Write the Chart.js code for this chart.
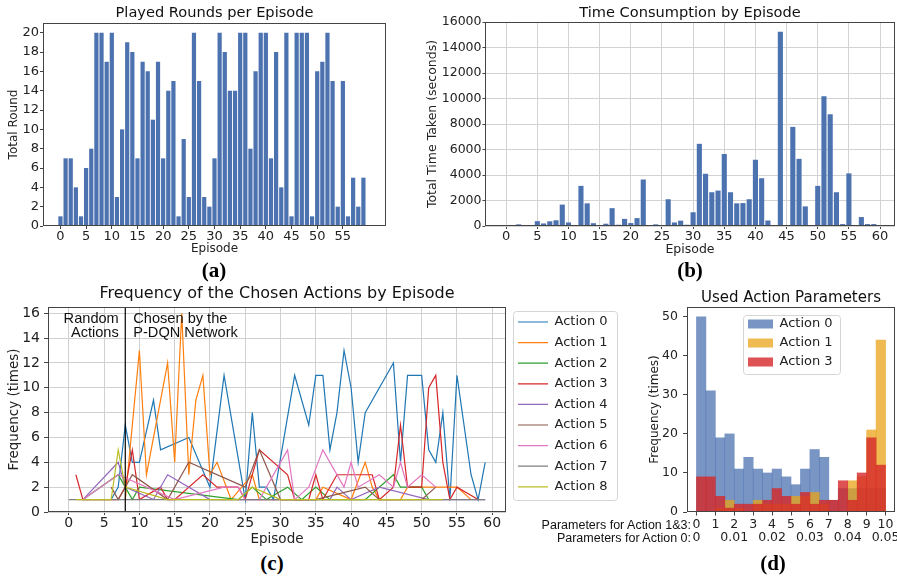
<!DOCTYPE html>
<html lang="en">
<head>
<meta charset="UTF-8">
<title>P-DQN episodes</title>
<script src="https://cdn.jsdelivr.net/npm/chart.js@4.4.1/dist/chart.umd.min.js"></script>
<style>
  body { margin: 0; background: #fff; }
  #page { position: relative; width: 897px; height: 577px; overflow: hidden; }
  #page canvas { position: absolute; }
  .tag { position: absolute; transform: translate(-50%, -50%); font: bold 21px 'Liberation Serif', 'DejaVu Serif', serif; color: #000; }
  .pre { position: absolute; transform: translate(-100%, -50%); font: 12.5px 'Liberation Sans', Arial, sans-serif; color: #111; white-space: nowrap; }
</style>
</head>
<body>
<div id="page">
  <canvas id="chartA" width="420" height="258" style="left:0px;top:0px"></canvas>
  <canvas id="chartB" width="477" height="258" style="left:420px;top:0px"></canvas>
  <canvas id="chartC" width="630" height="270" style="left:0px;top:280px"></canvas>
  <canvas id="chartD" width="267" height="297" style="left:630px;top:280px"></canvas>
  <div class="tag" style="left:214px;top:270px">(a)</div>
  <div class="tag" style="left:690px;top:270px">(b)</div>
  <div class="tag" style="left:272px;top:563px">(c)</div>
  <div class="tag" style="left:773px;top:563px">(d)</div>
  <div class="pre" style="left:691px;top:525px">Parameters for Action 1&amp;3:</div>
  <div class="pre" style="left:691px;top:538px">Parameters for Action 0:</div>
</div>
<script>
// ---------- data ----------
var episodes = [0,1,2,3,4,5,6,7,8,9,10,11,12,13,14,15,16,17,18,19,20,21,22,23,24,25,26,27,28,29,
                30,31,32,33,34,35,36,37,38,39,40,41,42,43,44,45,46,47,48,49,50,51,52,53,54,55,56,57,58,59];
var playedRounds = [1,7,7,4,1,6,8,20,20,17, 20,3,10,19,18,7,17,16,11,17, 7,14,15,1,9,3,20,15,3,2,
                    7,20,18,14,14,20,20,8,16,20, 20,7,18,4,20,1,20,20,20,1, 16,17,20,15,2,15,1,5,2,5];
var timeTaken = [0,30,130,40,0,380,200,370,450,1680, 280,30,3150,1780,220,60,180,1400,100,560,
                 230,620,3650,0,130,20,2100,280,420,100, 1080,6450,4100,2650,2780,5650,2650,1780,1800,2100,
                 5200,3750,430,20,15250,0,7780,5270,1540,0, 3150,10180,8770,2650,150,4130,0,700,150,150];

var xTicksA = [0,5,10,15,20,25,30,35,40,45,50,55];
var yTicksA = [0,2,4,6,8,10,12,14,16,18,20];
var xTicksB = [0,5,10,15,20,25,30,35,40,45,50,55,60];
var yTicksB = [0,2000,4000,6000,8000,10000,12000,14000,16000];

// chosen-action frequency per episode (only episodes where the action was used)
var actionNames = ['Action 0','Action 1','Action 2','Action 3','Action 4','Action 5','Action 6','Action 7','Action 8'];
var a0Ep = [6,7,8,9,10,12,13,17,20,22,25,26,27,28,29,32,34,35,36,37,38,39,40,41,42,46,47,48,50,51,52,53,54,55,57,58,59];
var a0Freq = [1,2,7,4,4,9,5,6,2,11,1,8,2,2,1,11,7,11,11,5,8,13,10,4,8,12,4,11,11,5,4,8,1,11,3,1,4];
var a1Ep = [8,10,11,14,15,16,17,18,19,20,21,23,26,27,35,36,40,42,43,44,47,48,55,57];
var a1Freq = [1,13,3,12,4,16,3,9,11,3,4,1,3,1,1,2,1,4,2,1,1,2,2,1];
var a2Ep = [2,7,8,9,10,24,26,28,31,33,35,37,42,46,47,50,51];
var a2Freq = [1,3,2,1,2,1,2,1,2,1,2,1,1,3,2,2,1];
var a3Ep = [1,2,7,8,9,10,13,14,15,19,21,24,25,27,31,32,34,35,36,38,43,44,46,47,48,50,51,52,53,54,55,58];
var a3Freq = [3,1,1,2,5,1,2,1,1,3,2,2,1,5,3,1,1,3,1,3,3,1,2,7,2,2,10,11,4,1,2,1];
var a4Ep = [2,7,8,12,14,20,37,38,40,44,51,59];
var a4Freq = [1,4,2,1,3,1,1,2,1,2,1,1];
var a5Ep = [6,7,9,14,17,25,27,30,35,42,44,50,52];
var a5Freq = [2,1,3,1,4,2,5,1,1,2,1,1,2];
var a6Ep = [2,7,15,22,24,25,27,31,32,34,36,39,40,41,44,46,47,48,50,52];
var a6Freq = [1,3,1,2,2,1,1,5,1,2,5,2,4,2,3,2,4,2,3,2];
var a7Ep = [0,59];
var a7Freq = [1,1];
var a8Ep = [1,6,7,8,14,24,26,30,53];
var a8Freq = [1,1,5,2,1,1,2,1,1];
var splitEpisode = 8;
var xTicksC = [0,5,10,15,20,25,30,35,40,45,50,55,60];
var yTicksC = [0,2,4,6,8,10,12,14,16];
var yMaxC = 16.5;

// histogram of used parameters, 20 bins over 0..10
var binCenters = [0.25,0.75,1.25,1.75,2.25,2.75,3.25,3.75,4.25,4.75,5.25,5.75,6.25,6.75,7.25,7.75,8.25,8.75,9.25,9.75];
var action0Hist = [50,31,19,20,11,14,11,10,11,9,7,11,16,14,3,6,6,6,6,6];
var action1Hist = [0,0,1,3,1,0,3,2,2,2,4,4,5,2,0,0,8,9,21,44];
var action3Hist = [9,9,4,1,2,2,2,3,6,4,2,5,2,3,3,8,3,10,19,12];
var paramTicks = [0,1,2,3,4,5,6,7,8,9,10];
var paramLabels13 = ['0','1','2','3','4','5','6','7','8','9','10'];
var paramLabels0 = ['0','','0.01','','0.02','','0.03','','0.04','','0.05'];
var yTicksD = [0,10,20,30,40,50];

// ---------- styles ----------
var actionColors = ['#1f77b4','#ff7f0e','#2ca02c','#d62728','#9467bd','#8c564b','#e377c2','#7f7f7f','#bcbd22'];
var barBlue = '#4c72b0';
var FONT = "'DejaVu Sans', sans-serif";
Chart.defaults.font.family = FONT;
Chart.defaults.color = '#222';
Chart.defaults.animation = false;

// ---------- helpers ----------
var fixAxis = function(size){
    return function(s){
        if (s.isHorizontal()) { s.height = size; s.paddingLeft = 0; s.paddingRight = 0; }
        else { s.width = size; s.paddingTop = 0; s.paddingBottom = 0; }
    };
};
var useTicks = function(vals){
    return function(s){ s.ticks = vals.map(function(v){ return {value: v}; }); };
};
var plain = function(v){ return String(v); };

// box around the plot area, like matplotlib spines
var framePlugin = {
    id: 'frame',
    afterDatasetsDraw: function(chart){
        var a = chart.chartArea, ctx = chart.ctx;
        ctx.save();
        ctx.strokeStyle = '#444';
        ctx.lineWidth = 1;
        ctx.strokeRect(Math.round(a.left) + 0.5, Math.round(a.top) + 0.5,
                       Math.round(a.right - a.left) - 1, Math.round(a.bottom - a.top) - 1);
        ctx.restore();
    }
};

// put the legend where we want and give it a rounded frame
var legendPlace = {
    id: 'legendPlace',
    afterLayout: function(chart, args, o){
        var lg = chart.legend, ca = chart.chartArea;
        if (!lg || !o.anchor) return;
        lg.left = (o.anchor === 'right' ? ca.right : ca.left) + o.x;
        lg.top = ca.top + o.y;
        lg.right = lg.left + lg.width;
        lg.bottom = lg.top + lg.height;
    },
    beforeDraw: function(chart, args, o){
        var lg = chart.legend;
        if (!lg || !o.anchor || !lg.legendHitBoxes || !lg.legendHitBoxes.length) return;
        var hb = lg.legendHitBoxes, l = 1e9, t = 1e9, r = -1e9, b = -1e9;
        hb.forEach(function(h){
            l = Math.min(l, h.left); t = Math.min(t, h.top);
            r = Math.max(r, h.left + h.width); b = Math.max(b, h.top + h.height);
        });
        var f = o.frame, ctx = chart.ctx;
        ctx.save();
        ctx.beginPath();
        ctx.roundRect(Math.round(l - f.l) + 0.5, Math.round(t - f.t) + 0.5,
                      Math.round(r - l + f.l + f.r), Math.round(b - t + f.t + f.b), 3);
        ctx.fillStyle = 'rgba(255,255,255,0.8)';
        ctx.fill();
        ctx.strokeStyle = '#d5d5d5';
        ctx.lineWidth = 1;
        ctx.stroke();
        ctx.restore();
    }
};

// the two texts on each side of the split line in (c)
var phaseLabels = {
    id: 'phaseLabels',
    afterDatasetsDraw: function(chart, args, o){
        if (!o.left) return;
        var px = chart.scales.x.getPixelForValue(o.at), top = chart.chartArea.top, ctx = chart.ctx;
        ctx.save();
        ctx.font = o.font;
        ctx.fillStyle = '#111';
        ctx.textBaseline = 'middle';
        ctx.textAlign = 'right';
        o.left.forEach(function(t, i){ ctx.fillText(t, px - 6.5, top + o.rows[i]); });
        ctx.textAlign = 'left';
        o.right.forEach(function(t, i){ ctx.fillText(t, px + 8, top + o.rows[i]); });
        ctx.restore();
    }
};
Chart.register(framePlugin, legendPlace, phaseLabels);

var tickGrid = function(len, onArea, color){
    return {display: true, drawOnChartArea: onArea, drawTicks: true, tickLength: len,
            tickColor: '#444', color: color || '#d3d3d3', lineWidth: 1, offset: false};
};
var titleOf = function(text, size, top, bottom){
    return {display: true, text: text, color: '#111', fullSize: false,
            font: {size: size, weight: 'normal', lineHeight: 1.2}, padding: {top: top, bottom: bottom}};
};

// ---------- (a) played rounds ----------
new Chart(document.getElementById('chartA').getContext('2d'), {
    type: 'bar',
    data: {
        labels: episodes,
        datasets: [{
            label: 'Total Round',
            data: playedRounds,
            backgroundColor: barBlue,
            borderWidth: 0,
            categoryPercentage: 1,
            barPercentage: 0.82
        }]
    },
    options: {
        responsive: false, devicePixelRatio: 1,
        layout: {padding: {left: 0, top: 0, right: 34, bottom: 0}, autoPadding: false},
        plugins: {
            legend: {display: false}, tooltip: {enabled: false},
            title: titleOf('Played Rounds per Episode', 14.6, 4.5, 1)
        },
        scales: {
            x: {
                type: 'linear', min: -3.4, max: 63.4, offset: false,
                afterBuildTicks: useTicks(xTicksA), afterFit: fixAxis(32),
                grid: tickGrid(3, false), border: {display: false},
                ticks: {padding: 0, font: {size: 13}, autoSkip: false, maxRotation: 0, callback: plain},
                title: {display: true, text: 'Episode', font: {size: 12}, padding: {top: 0, bottom: 1.8}}
            },
            y: {
                min: 0, max: 21,
                afterBuildTicks: useTicks(yTicksA), afterFit: fixAxis(43),
                grid: tickGrid(3, false), border: {display: false},
                ticks: {padding: 1, font: {size: 13}, callback: plain},
                title: {display: true, text: 'Total Round', font: {size: 12}, padding: {top: 6.8, bottom: 0}}
            }
        }
    }
});

// ---------- (b) time consumption ----------
new Chart(document.getElementById('chartB').getContext('2d'), {
    type: 'bar',
    data: {
        labels: episodes,
        datasets: [{
            label: 'Total Time Taken (seconds)',
            data: timeTaken,
            backgroundColor: barBlue,
            borderWidth: 0,
            categoryPercentage: 1,
            barPercentage: 0.82
        }]
    },
    options: {
        responsive: false, devicePixelRatio: 1,
        layout: {padding: {left: 0, top: 0, right: 2, bottom: 0}, autoPadding: false},
        plugins: {
            legend: {display: false}, tooltip: {enabled: false},
            title: titleOf('Time Consumption by Episode', 14.6, 4.5, 0)
        },
        scales: {
            x: {
                type: 'linear', min: -3.4, max: 62.4, offset: false,
                afterBuildTicks: useTicks(xTicksB), afterFit: fixAxis(32),
                grid: tickGrid(3, true), border: {display: false},
                ticks: {padding: 0, font: {size: 13}, autoSkip: false, maxRotation: 0, callback: plain},
                title: {display: true, text: 'Episode', font: {size: 12.5}, padding: {top: 0, bottom: 1.2}}
            },
            y: {
                min: 0, max: 16010,
                afterBuildTicks: useTicks(yTicksB), afterFit: fixAxis(65),
                grid: tickGrid(2.5, true), border: {display: false},
                ticks: {padding: 1, font: {size: 12.5}, callback: plain},
                title: {display: true, text: 'Total Time Taken (seconds)', font: {size: 12.5}, padding: {top: 5.5, bottom: 0}}
            }
        }
    }
});

// ---------- (c) chosen action frequency ----------
var actionSeries = [[a0Ep,a0Freq],[a1Ep,a1Freq],[a2Ep,a2Freq],[a3Ep,a3Freq],[a4Ep,a4Freq],
                    [a5Ep,a5Freq],[a6Ep,a6Freq],[a7Ep,a7Freq],[a8Ep,a8Freq]];
var lineSets = actionSeries.map(function(s, i){
    return {
        label: actionNames[i],
        data: s[0].map(function(e, k){ return {x: e, y: s[1][k]}; }),
        borderColor: actionColors[i],
        backgroundColor: actionColors[i],
        borderWidth: 1.2,
        pointRadius: 0,
        tension: 0,
        fill: false,
        order: actionNames.length - i
    };
});
lineSets.push({
    label: 'split',
    data: [{x: splitEpisode, y: 0}, {x: splitEpisode, y: yMaxC}],
    borderColor: '#000', borderWidth: 1.2, pointRadius: 0, fill: false, order: -1
});

new Chart(document.getElementById('chartC').getContext('2d'), {
    type: 'line',
    data: {datasets: lineSets},
    options: {
        responsive: false, devicePixelRatio: 1,
        layout: {padding: {left: 0, top: 0, right: 124, bottom: 0}, autoPadding: false},
        plugins: {
            tooltip: {enabled: false},
            title: titleOf('Frequency of the Chosen Actions by Episode', 16, 4.4, 3.4),
            legend: {
                position: 'chartArea', align: 'start',
                labels: {
                    usePointStyle: true, pointStyle: 'line', pointStyleWidth: 30,
                    font: {size: 13}, color: '#222', padding: 7.6,
                    filter: function(it){ return it.datasetIndex < actionNames.length; },
                    sort: function(a, b){ return a.datasetIndex - b.datasetIndex; }
                }
            },
            legendPlace: {anchor: 'right', x: 4.4, y: 0.9, frame: {l: 5, r: 9, t: 4.5, b: 6.7}},
            phaseLabels: {
                at: splitEpisode, font: "14.6px 'Liberation Sans', Arial, sans-serif",
                rows: [12, 26.3], left: ['Random', 'Actions'], right: ['Chosen by the', 'P-DQN Network']
            }
        },
        scales: {
            x: {
                type: 'linear', min: -2.95, max: 61.95,
                afterBuildTicks: useTicks(xTicksC), afterFit: fixAxis(38),
                grid: tickGrid(3, true, '#d0d0d0'), border: {display: false},
                ticks: {padding: 0, font: {size: 14}, autoSkip: false, maxRotation: 0, callback: plain},
                title: {display: true, text: 'Episode', font: {size: 13.5}, padding: {top: 0, bottom: 2.9}}
            },
            y: {
                min: 0, max: yMaxC,
                afterBuildTicks: useTicks(yTicksC), afterFit: fixAxis(48),
                grid: tickGrid(4, true, '#d0d0d0'), border: {display: false},
                ticks: {padding: 4, font: {size: 14}, callback: plain},
                title: {display: true, text: 'Frequency (times)', font: {size: 13.5}, padding: {top: 5.9, bottom: 0}}
            }
        }
    }
});

// ---------- (d) used action parameters ----------
var histSet = function(label, values, color, order){
    return {
        label: label,
        data: values,
        backgroundColor: color,
        borderWidth: 0,
        categoryPercentage: 1,
        barPercentage: 1,
        grouped: false,
        order: order
    };
};
new Chart(document.getElementById('chartD').getContext('2d'), {
    type: 'bar',
    data: {
        labels: binCenters,
        datasets: [
            histSet('Action 0', action0Hist, 'rgba(76,114,176,0.75)', 3),
            histSet('Action 1', action1Hist, 'rgba(232,163,23,0.75)', 2),
            histSet('Action 3', action3Hist, 'rgba(214,39,40,0.8)', 1)
        ]
    },
    options: {
        responsive: false, devicePixelRatio: 1,
        layout: {padding: {left: 0, top: 0, right: 2, bottom: 0}, autoPadding: false},
        plugins: {
            tooltip: {enabled: false},
            title: titleOf('Used Action Parameters', 15, 9, 0),
            legend: {
                position: 'chartArea', align: 'start',
                labels: {
                    boxWidth: 25, boxHeight: 9, font: {size: 13}, color: '#222', padding: 6,
                    sort: function(a, b){ return a.datasetIndex - b.datasetIndex; }
                }
            },
            legendPlace: {anchor: 'left', x: 55, y: 4.5, frame: {l: 5, r: 7, t: 3, b: 4.5}}
        },
        scales: {
            x: {
                type: 'linear', min: -0.5, max: 10.5, offset: false,
                afterBuildTicks: useTicks(paramTicks), afterFit: fixAxis(65),
                grid: tickGrid(3.5, false), border: {display: false},
                ticks: {
                    padding: 3, font: {size: 12.5, lineHeight: '13px'}, autoSkip: false, maxRotation: 0,
                    callback: function(v, i){ return [paramLabels13[i], paramLabels0[i]]; }
                }
            },
            y: {
                min: 0, max: 52.5,
                afterBuildTicks: useTicks(yTicksD), afterFit: fixAxis(57),
                grid: tickGrid(4, false), border: {display: false},
                ticks: {padding: 5, font: {size: 12.5}, callback: plain},
                title: {display: true, text: 'Frequency (times)', font: {size: 12}, padding: {top: 17.8, bottom: 0}}
            }
        }
    }
});
</script>
</body>
</html>
